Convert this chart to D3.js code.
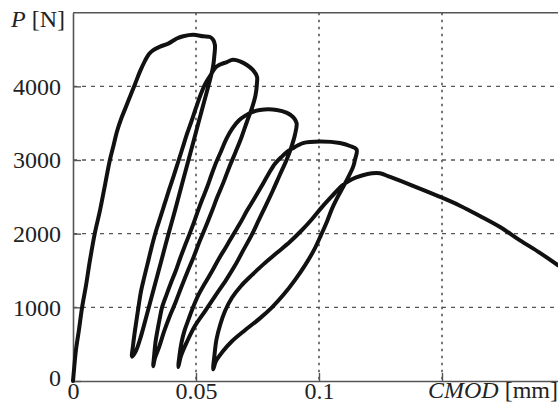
<!DOCTYPE html>
<html>
<head>
<meta charset="utf-8">
<script src="https://cdn.jsdelivr.net/npm/d3@7"></script>
<style>
  html, body { margin: 0; padding: 0; background: #fff; }
  svg { display: block; }
  text { font-family: "Liberation Serif", "DejaVu Serif", serif; fill: #222; }
</style>
</head>
<body>
<svg id="chart" width="558" height="405"></svg>
<script>
// ---- data: [CMOD (mm), P (N)] ----
const loading = [[0,0],[0.0004,150],[0.0012,420],[0.0024,690],[0.0037,1000],[0.0053,1300],[0.0069,1640],[0.0089,2010],[0.0110,2320],[0.0130,2660],[0.0150,3000],[0.0165,3200],[0.0179,3390],[0.0197,3570],[0.0215,3720],[0.0234,3880],[0.0252,4030],[0.0272,4200],[0.0293,4350],[0.0309,4440],[0.0325,4490],[0.0354,4540],[0.0387,4580],[0.0422,4650],[0.0448,4680],[0.0488,4700],[0.0530,4680],[0.0557,4670],[0.0570,4630],[0.0577,4560]];
const unload1 = [[0.0575,4430],[0.0569,4260],[0.0557,4090],[0.0528,3730],[0.0500,3380],[0.0472,3030],[0.0443,2670],[0.0415,2320],[0.0386,1970],[0.0358,1620],[0.0329,1260],[0.0301,910],[0.0272,560],[0.0256,410],[0.0240,330]];
const reload1 = [[0.0244,480],[0.0250,640],[0.0257,800],[0.0266,1000],[0.0276,1210],[0.0289,1400],[0.0303,1590],[0.0319,1810],[0.0335,2010],[0.0354,2210],[0.0372,2400],[0.0390,2590],[0.0409,2780],[0.0427,2970],[0.0445,3160],[0.0463,3350],[0.0482,3530],[0.0500,3710],[0.0518,3880],[0.0537,4030],[0.0555,4130]];
const peak2 = [[0.0584,4270],[0.0625,4330],[0.0650,4360],[0.0679,4340],[0.0707,4290],[0.0732,4220],[0.0748,4130],[0.0748,4050]];
const unload2 = [[0.0742,3880],[0.0728,3710],[0.0707,3520],[0.0685,3310],[0.0661,3110],[0.0636,2910],[0.0612,2700],[0.0587,2500],[0.0563,2290],[0.0539,2090],[0.0514,1890],[0.0490,1680],[0.0465,1480],[0.0441,1280],[0.0417,1070],[0.0392,870],[0.0370,670],[0.0350,460],[0.0333,310],[0.0326,200]];
const reload2 = [[0.0330,350],[0.0335,520],[0.0343,680],[0.0352,840],[0.0362,1000],[0.0380,1170],[0.0398,1330],[0.0417,1490],[0.0435,1660],[0.0453,1820],[0.0472,1980],[0.0490,2140],[0.0508,2310],[0.0526,2470],[0.0545,2630],[0.0563,2800],[0.0581,2960],[0.0602,3120],[0.0624,3290],[0.0648,3430],[0.0675,3540],[0.0699,3600]];
const peak3 = [[0.0728,3650],[0.0760,3680],[0.0828,3680],[0.0870,3640],[0.0896,3580],[0.0909,3500]];
const unload3 = [[0.0902,3340],[0.0888,3180],[0.0868,3000],[0.0841,2800],[0.0813,2590],[0.0785,2390],[0.0756,2190],[0.0726,1980],[0.0693,1780],[0.0659,1570],[0.0622,1370],[0.0581,1170],[0.0539,960],[0.0496,750],[0.0463,530],[0.0439,340],[0.0428,190]];
const reload3 = [[0.0433,350],[0.0441,520],[0.0453,680],[0.0470,840],[0.0488,1000],[0.0510,1170],[0.0537,1330],[0.0565,1490],[0.0593,1660],[0.0622,1820],[0.0650,1980],[0.0679,2140],[0.0707,2310],[0.0736,2470],[0.0764,2630],[0.0793,2800],[0.0821,2950],[0.0850,3050],[0.0874,3120],[0.0894,3160]];
const peak4 = [[0.0915,3200],[0.0935,3230],[0.1004,3250],[0.1085,3230],[0.1126,3190],[0.1153,3140]];
const unload4 = [[0.1146,3000],[0.1139,2910],[0.1118,2760],[0.1099,2640],[0.1073,2480],[0.1053,2340],[0.1033,2170],[0.1008,1980],[0.0980,1780],[0.0943,1570],[0.0902,1370],[0.0858,1180],[0.0809,1000],[0.0756,840],[0.0699,690],[0.0646,540],[0.0606,390],[0.0581,270],[0.0570,160]];
const reload4 = [[0.0575,350],[0.0583,560],[0.0598,760],[0.0618,950],[0.0646,1130],[0.0683,1290],[0.0728,1440],[0.0776,1590],[0.0829,1740],[0.0882,1890],[0.0931,2050],[0.0972,2200],[0.1012,2360],[0.1053,2510],[0.1093,2650],[0.1134,2740],[0.1175,2790]];
const softening = [[0.1215,2820],[0.1248,2820],[0.1289,2770],[0.1382,2650],[0.1492,2500],[0.1573,2380],[0.1654,2240],[0.1736,2090],[0.1817,1910],[0.1898,1740],[0.1972,1570]];

const yTicks = [0, 1000, 2000, 3000, 4000];
const xTicks = [0, 0.05, 0.1];
const xGridValues = [0.05, 0.1, 0.15];
const yGridValues = [1000, 2000, 3000, 4000];
const xTitleItalic = "CMOD";
const xTitleUnit = " [mm]";
const yTitleItalic = "P";
const yTitleUnit = " [N]";

(function () {
// ---- layout ----
const svg = d3.select("#chart");
const W = 558;
const mLeft = 73, mTop = 12.7, mBottom = 381;
const x = d3.scaleLinear().domain([0, 0.2]).range([mLeft, mLeft + 492]);
const y = d3.scaleLinear().domain([0, 5000]).range([mBottom, mTop]);
const gridColor = "#555";

// grid
svg.append("g").selectAll("line").data(yGridValues).join("line")
  .attr("x1", mLeft).attr("x2", W)
  .attr("y1", d => y(d)).attr("y2", d => y(d))
  .attr("stroke", gridColor).attr("stroke-width", 1.3)
  .attr("stroke-dasharray", "4,5");
svg.append("g").selectAll("line").data(xGridValues).join("line")
  .attr("x1", d => x(d)).attr("x2", d => x(d))
  .attr("y1", mTop).attr("y2", mBottom)
  .attr("stroke", gridColor).attr("stroke-width", 1.6)
  .attr("stroke-dasharray", "2.5,4.5");

// top border
svg.append("line").attr("x1", mLeft).attr("x2", W).attr("y1", mTop).attr("y2", mTop)
  .attr("stroke", "#555").attr("stroke-width", 1.6);

// axes
const yAxis = d3.axisLeft(y).tickValues(yTicks).tickSizeInner(-8).tickSizeOuter(0)
  .tickPadding(12).tickFormat(d => String(d));
const gy = svg.append("g").attr("transform", `translate(${mLeft},0)`).call(yAxis);
gy.select(".domain").attr("stroke", "#555").attr("stroke-width", 1.6);
gy.selectAll(".tick line").attr("stroke", "#555").attr("stroke-width", 1.4);
gy.selectAll(".tick text").attr("font-size", 24).attr("font-family", "Liberation Serif")
  .attr("fill", "#222").attr("dy", "0.33em");
gy.selectAll(".tick").filter(d => d === 0).select("text").attr("dy", "0.2em");

const xAxis = d3.axisBottom(x).tickValues([...xTicks, 0.15]).tickSizeInner(-8).tickSizeOuter(0)
  .tickFormat(d => d === 0.15 ? "" : String(d));
const gx = svg.append("g").attr("transform", `translate(0,${mBottom})`).call(xAxis);
gx.select(".domain").attr("stroke", "#555").attr("stroke-width", 1.6);
gx.selectAll(".tick line").attr("stroke", "#555").attr("stroke-width", 1.4);
gx.selectAll(".tick text").attr("font-size", 24).attr("font-family", "Liberation Serif")
  .attr("fill", "#222").attr("y", 18).attr("dy", 0);

// axis titles
const xt = svg.append("text").attr("x", 428).attr("y", 398).attr("font-size", 24);
xt.append("tspan").attr("font-style", "italic").text(xTitleItalic);
xt.append("tspan").text(xTitleUnit);
const yt = svg.append("text").attr("x", 11).attr("y", 27).attr("font-size", 24);
yt.append("tspan").attr("font-style", "italic").text(yTitleItalic);
yt.append("tspan").text(yTitleUnit);

// curve
const all = [].concat(loading, unload1, reload1, peak2, unload2, reload2, peak3,
  unload3, reload3, peak4, unload4, reload4, softening);
const line = d3.line().x(d => x(d[0])).y(d => y(d[1])).curve(d3.curveCatmullRom.alpha(0.5));
svg.append("path").datum(all).attr("d", line)
  .attr("fill", "none").attr("stroke", "#111").attr("stroke-width", 4)
  .attr("stroke-linejoin", "round").attr("stroke-linecap", "round");
})();
</script>
</body>
</html>
